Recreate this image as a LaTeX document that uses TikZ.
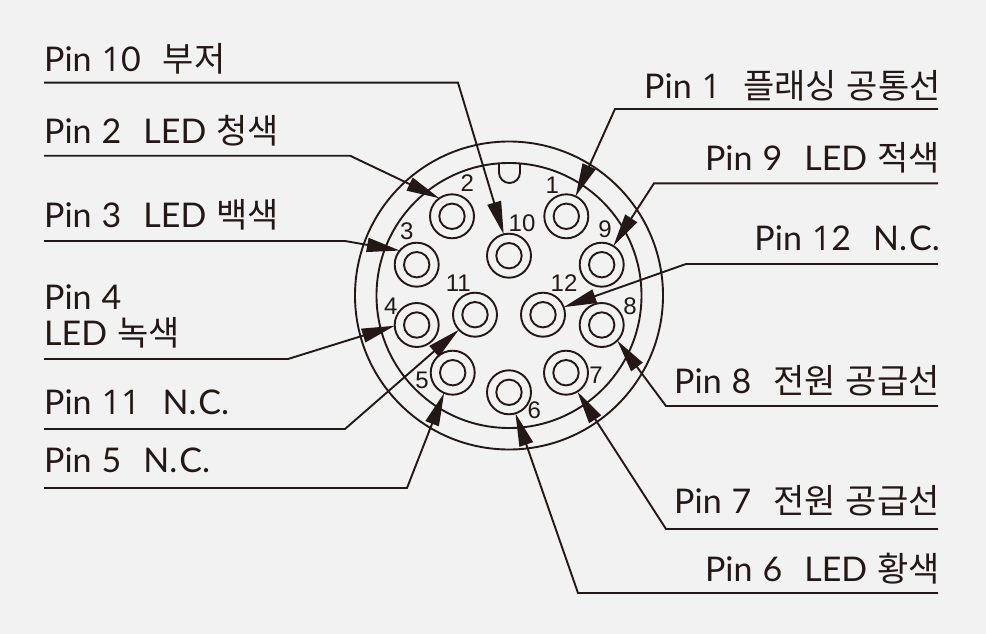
\documentclass[tikz,border=0pt]{standalone}
\usepackage{fontspec}
\setmainfont{Lato}
\newfontfamily\kr{Noto Sans CJK KR}
\newfontfamily\oneface{Open Sans}
\newfontfamily\numfont{Liberation Sans}
\usetikzlibrary{arrows.meta}
\definecolor{ink}{HTML}{231815}
\definecolor{paper}{HTML}{F2F2F2}
\tikzset{
  x=1pt,y=-1pt,
  ring/.style={draw=ink,line width=1.9pt},
  pinbody/.style={circle,draw=ink,line width=1.9pt,minimum size=44pt,inner sep=0pt,outer sep=0pt},
  pinnum/.style={font=\numfont\fontsize{24}{24}\selectfont,text=ink,inner sep=0pt},
  pinlabel/.style={font=\fontsize{34}{34}\selectfont,text=ink,inner sep=0pt},
  leftlabel/.style={pinlabel,anchor=base west},
  rightlabel/.style={pinlabel,anchor=base east},
  leader/.style={draw=ink,line width=1.9pt,-{Triangle[length=33pt,width=14pt]}},
}
\newcommand{\pn}{Pin\hspace{10pt}}
\newcommand{\one}{{\oneface 1}}
\newcommand{\gap}{\hspace{22pt}}
\newcommand{\kgap}{\hspace{10pt}}
\newcommand{\nc}{N.\hspace{2pt}C.}
\begin{document}
\begin{tikzpicture}
\path[fill=paper,use as bounding box] (0,0) rectangle (986,634);
% shell
\coordinate (c) at (509,295.5);
\draw[ring] (c) circle[radius=154];
\draw[ring] (c) circle[radius=132.5];
\draw[ring] (499,164) -- (499,172.5) arc[start angle=180,end angle=0,radius=10.5] -- (520,164);
% pins
\foreach \n/\x/\y in {1/566.3/216.3,2/452/216.3,3/416.7/264.7,4/416.7/325,5/452.7/372.7,6/509/392.3,
  7/566/372.7,8/601.7/325,9/601.7/264.7,10/509/255.7,11/475/314.7,12/543/314.7}{
  \node[pinbody] (p\n) at (\x,\y) {};
  \draw[ring] (p\n.center) circle[radius=12.7];
}
% pin numbers
\foreach \n/\x/\y in {1/552.3/185,2/467.3/183.3,3/406.7/231,4/390.7/306,5/422/380,6/534.3/410.7,
  7/596/375.3,8/630/306.7,9/605/229.3,10/522/223.3,11/458.3/283.3,12/564/283.3}{
  \node[pinnum] (n\n) at (\x,\y) {\n};
}
% left labels
\node[leftlabel] (t10) at (44,71.7) {\pn\one 0\gap{\kr 부저}};
\node[leftlabel] (t2) at (44,143.7) {\pn 2\gap LED\kgap{\kr 청색}};
\node[leftlabel] (t3) at (44,227.7) {\pn 3\gap LED\kgap{\kr 백색}};
\node[leftlabel] (t4a) at (44,309) {\pn 4};
\node[leftlabel] (t4b) at (44,345) {LED\kgap{\kr 녹색}};
\node[leftlabel] (t11) at (44,414.5) {\pn\one\one\gap\nc};
\node[leftlabel] (t5) at (44,472.5) {\pn 5\gap\nc};
% right labels
\node[rightlabel] (t1) at (941,98.3) {\pn\one\gap{\kr 플래싱\kgap 공통선}};
\node[rightlabel] (t9) at (940,170.7) {\pn 9\gap LED\kgap{\kr 적색}};
\node[rightlabel] (t12) at (940,250) {\pn\one 2\gap\nc};
\node[rightlabel] (t8) at (940,393) {\pn 8\gap{\kr 전원\kgap 공급선}};
\node[rightlabel] (t7) at (940,513) {\pn 7\gap{\kr 전원\kgap 공급선}};
\node[rightlabel] (t6) at (940,581) {\pn 6\gap LED\kgap{\kr 황색}};
% leader ends
\foreach \n/\s/\b/\y in {10/44/458/82.7,2/44/350/155.7,3/44/345/241,4/44/288/359,11/44/345/429,5/44/407/488,
  1/938/615/109,9/938/654/183.3,12/938/686/264,8/938/666/406,7/938/666/529,6/938/578/593}{
  \coordinate (s\n) at (\s,\y);
  \coordinate (b\n) at (\b,\y);
}
% leaders
\draw[leader] (s10) -- (b10) -- (p10.104.7);
\draw[leader] (s2) -- (b2) -- (p2.125);
\draw[leader] (s3) -- (b3) -- (p3.140.6);
\draw[leader] (s4) -- (b4) -- (p4.182);
\draw[leader] (s11) -- (b11) -- (p11.223.8);
\draw[leader] (s5) -- (b5) -- (p5.247.8);
\draw[leader] (s1) -- (b1) -- (p1.65.5);
\draw[leader] (s9) -- (b9) -- (p9.58);
\draw[leader] (s12) -- (b12) -- (p12.20);
\draw[leader] (s8) -- (b8) -- (p8.-45.7);
\draw[leader] (s7) -- (b7) -- (p7.-59);
\draw[leader] (s6) -- (b6) -- (p6.-73);
\end{tikzpicture}
\end{document}
